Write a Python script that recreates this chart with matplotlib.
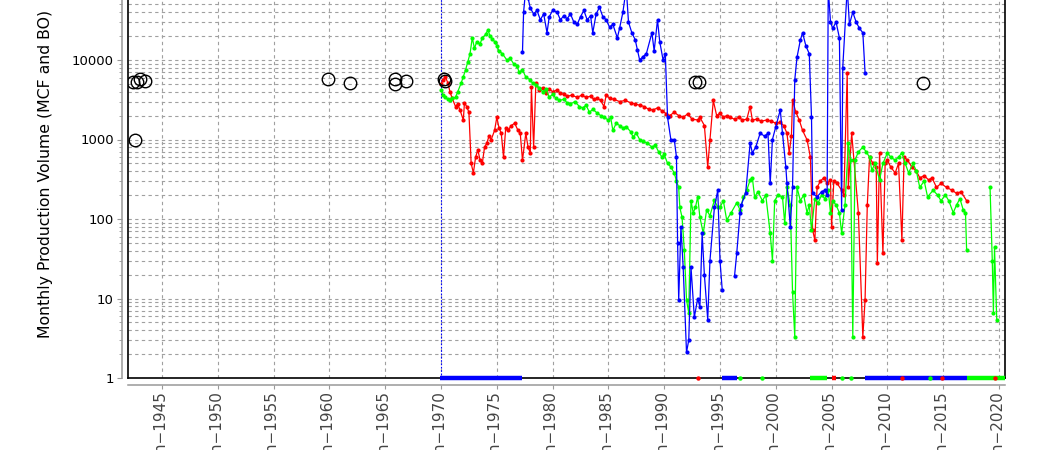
import numpy as np
import matplotlib
matplotlib.use("Agg")
import matplotlib.pyplot as plt
from matplotlib.ticker import FixedLocator, LogLocator, NullFormatter

# ---- data ----
green_years = [1970.0, 1970.2, 1970.4, 1970.6, 1970.8, 1971.0, 1971.3, 1971.5, 1971.8, 1972.0,
               1972.2, 1972.4, 1972.6, 1972.8, 1973.0, 1973.2, 1973.5, 1973.7, 1974.0, 1974.2,
               1974.4, 1974.6, 1974.8, 1975.0, 1975.2, 1975.5, 1975.9, 1976.2, 1976.5, 1976.8,
               1977.0, 1977.3, 1977.6, 1978.0, 1978.2, 1978.5, 1978.8, 1979.1, 1979.4, 1979.7,
               1980.0, 1980.3, 1980.6, 1981.0, 1981.3, 1981.6, 1982.0, 1982.4, 1982.7, 1983.0,
               1983.3, 1983.6, 1984.0, 1984.3, 1984.6, 1985.0, 1985.2, 1985.4, 1985.7, 1986.0,
               1986.3, 1986.6, 1987.0, 1987.2, 1987.5, 1987.8, 1988.1, 1988.5, 1988.9, 1989.2,
               1989.5, 1989.8, 1990.0, 1990.3, 1990.6, 1990.9, 1991.1, 1991.3, 1991.4, 1991.6,
               1991.8, 1992.0, 1992.2, 1992.4, 1992.6, 1992.8, 1993.0, 1993.2, 1993.5, 1993.8,
               1994.1, 1994.5, 1994.8, 1995.0, 1995.3, 1995.6, 1996.0, 1996.5, 1996.8, 1997.1,
               1997.4, 1997.7, 1997.9, 1998.1, 1998.4, 1998.8, 1999.1, 1999.5, 1999.7, 1999.9,
               2000.2, 2000.6, 2000.8, 2001.0, 2001.3, 2001.5, 2001.7, 2001.9, 2002.2, 2002.5,
               2002.8, 2003.0, 2003.2, 2003.5, 2003.8, 2004.1, 2004.4, 2004.7, 2004.9, 2005.1,
               2005.4, 2005.7, 2005.9, 2006.2, 2006.5, 2006.7, 2006.9, 2007.1, 2007.4, 2007.8,
               2008.1, 2008.4, 2008.6, 2008.9, 2009.3, 2009.6, 2010.0, 2010.3, 2010.7, 2011.0,
               2011.3, 2011.6, 2011.9, 2012.3, 2012.6, 2012.9, 2013.3, 2013.6, 2014.1, 2014.5,
               2014.8, 2015.2, 2015.5, 2015.9, 2016.2, 2016.5, 2016.8, 2017.0, 2017.1,
               2019.2, 2019.4, 2019.5, 2019.6, 2019.8]
green_values = [4200, 3600, 3400, 3200, 3100, 3300, 3400, 4000, 5100, 6200,
                7500, 9500, 12000, 19000, 14000, 17000, 16000, 19000, 21000, 24000,
                20000, 18500, 17000, 15000, 13000, 12000, 10000, 10500, 9000, 8500,
                7000, 7500, 6100, 5600, 5100, 4800, 4500, 4000, 4300, 3400,
                3700, 3300, 3100, 3200, 2900, 2800, 3000, 2600, 2500, 2700,
                2200, 2400, 2150, 2000, 1900, 1760, 1900, 1300, 1600, 1500,
                1400, 1450, 1250, 1080, 1200, 1000, 950, 900, 800, 850,
                700, 600, 650, 500, 450, 380, 300, 250, 140, 105,
                41, 9.6, 6.6, 170, 120, 140, 190, 105, 66, 130,
                110, 173, 140, 140, 170, 97, 120, 160, 130, 190,
                230, 310, 330, 190, 220, 170, 200, 66, 30, 170,
                200, 190, 88, 250, 150, 12, 3.3, 250, 170, 200,
                120, 150, 73, 180, 160, 200, 180, 230, 120, 170,
                150, 120, 66, 150, 900, 550, 3.3, 550, 700, 800,
                700, 600, 410, 500, 310, 500, 680, 600, 550, 600,
                680, 500, 380, 500, 400, 250, 300, 190, 230, 200,
                170, 200, 170, 120, 150, 180, 130, 120, 41,
                250, 30, 6.6, 44, 5.4]

red_years = [1970.0, 1970.2, 1970.4, 1970.6, 1970.8, 1971.0, 1971.3, 1971.5, 1971.7, 1972.0,
             1972.1, 1972.3, 1972.5, 1972.7, 1972.9, 1973.1, 1973.3, 1973.5, 1973.7, 1973.9,
             1974.1, 1974.3, 1974.5, 1974.8, 1975.0, 1975.2, 1975.4, 1975.6, 1975.8, 1976.0,
             1976.3, 1976.6, 1976.9, 1977.1, 1977.3, 1977.6, 1977.8, 1978.0, 1978.1, 1978.3,
             1978.5, 1978.8, 1979.1, 1979.4, 1979.7, 1980.0, 1980.4, 1980.7, 1981.0, 1981.3,
             1981.7, 1982.2, 1982.6, 1983.0, 1983.4, 1983.7, 1984.0, 1984.3, 1984.6, 1984.8,
             1985.1, 1985.5, 1986.0, 1986.5, 1987.0, 1987.4, 1987.8, 1988.2, 1988.6, 1989.0,
             1989.4, 1989.8, 1990.2, 1990.5, 1990.9, 1991.3, 1991.7, 1992.1, 1992.5, 1993.0,
             1993.2, 1993.6, 1993.9, 1994.1, 1994.4, 1994.7, 1995.0, 1995.3, 1995.6, 1995.9,
             1996.3, 1996.7, 1997.0, 1997.4, 1997.7, 1997.9, 1998.3, 1998.7, 1999.2, 1999.6,
             2000.0, 2000.4, 2000.7, 2001.0, 2001.2, 2001.4, 2001.5, 2001.8, 2002.1, 2002.4,
             2002.8, 2003.1, 2003.3, 2003.5, 2003.7, 2004.0, 2004.3, 2004.6, 2004.9, 2005.0,
             2005.2, 2005.5, 2005.9, 2006.1, 2006.4, 2006.5, 2006.8, 2007.0, 2007.4, 2007.8,
             2008.0, 2008.2, 2008.4, 2008.7, 2009.0, 2009.1, 2009.3, 2009.6, 2009.8, 2010.0,
             2010.3, 2010.7, 2011.0, 2011.3, 2011.5, 2011.8, 2012.2, 2012.6, 2012.9, 2013.3,
             2013.7, 2014.0, 2014.4, 2014.8, 2015.3, 2015.8, 2016.2, 2016.6, 2017.1]
red_values = [5000, 5600, 6100, 5200, 4000, 3300, 2600, 2800, 2350, 1760,
              2900, 2600, 2200, 500, 380, 600, 740, 550, 500, 800,
              900, 1100, 1000, 1300, 1900, 1400, 1200, 600, 1400, 1300,
              1500, 1600, 1300, 1200, 550, 1200, 800, 680, 4600, 800,
              5100, 4200, 4500, 3900, 4300, 4000, 4200, 3800, 3700, 3500,
              3600, 3400, 3600, 3400, 3500, 3200, 3300, 3100, 2600, 3600,
              3300, 3200, 3000, 3100, 2900, 2800, 2700, 2600, 2400, 2350,
              2500, 2300, 2100, 2000, 2200, 2000, 1900, 2100, 1800, 1760,
              1900, 1500, 450, 990, 3100, 2000, 2150, 1900, 2000, 1900,
              1800, 1900, 1760, 1800, 2600, 1760, 1800, 1700, 1760, 1700,
              1600, 1650, 1500, 1200, 680, 1100, 3100, 2200, 1760, 1300,
              990, 600, 73, 54, 250, 300, 330, 280, 310, 80,
              300, 280, 230, 200, 6900, 250, 1200, 550, 120, 3.3,
              9.6, 150, 600, 500, 450, 28, 680, 37, 500, 550,
              450, 380, 500, 54, 600, 550, 450, 400, 330, 350,
              310, 330, 250, 280, 250, 230, 210, 220, 170]

blue_years = [1977.3, 1977.4, 1977.6, 1977.8, 1978.0, 1978.3, 1978.6, 1978.9, 1979.2, 1979.5,
              1979.7, 1980.0, 1980.4, 1980.7, 1981.0, 1981.3, 1981.6, 1981.9, 1982.2, 1982.5,
              1982.8, 1983.1, 1983.4, 1983.6, 1983.9, 1984.2, 1984.5, 1984.8, 1985.1, 1985.4,
              1985.8, 1986.0, 1986.3, 1986.6, 1986.8, 1987.1, 1987.4, 1987.6, 1987.8, 1988.1,
              1988.4, 1988.9, 1989.1, 1989.4, 1989.6, 1989.9, 1990.1, 1990.3, 1990.6, 1990.9,
              1991.1, 1991.2, 1991.3, 1991.5, 1991.7, 1992.0, 1992.2, 1992.4, 1992.7, 1993.0,
              1993.2, 1993.4, 1993.6, 1993.9, 1994.1, 1994.5, 1994.8, 1995.0, 1995.2,
              1996.3, 1996.5, 1996.8, 1996.9, 1997.3, 1997.7, 1997.9, 1998.2, 1998.6, 1999.0,
              1999.3, 1999.5, 1999.7, 2000.0, 2000.4, 2000.6, 2000.9, 2001.0, 2001.3, 2001.5,
              2001.7, 2001.9, 2002.2, 2002.4, 2002.7, 2003.0, 2003.2, 2003.3, 2003.7, 2004.1,
              2004.4, 2004.6, 2004.7, 2004.9, 2005.1, 2005.4, 2005.7, 2005.9, 2006.0, 2006.4,
              2006.6, 2006.9, 2007.2, 2007.5, 2007.8, 2008.0]
blue_values = [12600, 40000, 80000, 60000, 45000, 38000, 42000, 32000, 38000, 22000,
               35000, 42000, 40000, 32000, 36000, 33000, 38000, 30000, 28000, 35000,
               42000, 32000, 36000, 22000, 38000, 46000, 35000, 32000, 26000, 28000,
               19000, 25000, 40000, 80000, 30000, 22000, 18000, 13400, 10000, 11000,
               12000, 22000, 13000, 32000, 17000, 10000, 12000, 1900, 990, 1000,
               600, 50, 9.6, 80, 25, 2.1, 3.0, 25, 5.8, 10,
               7.8, 66, 20, 5.4, 30, 140, 230, 30, 12.8,
               19, 37, 120, 150, 210, 900, 680, 800, 1200, 1100,
               1200, 280, 1000, 1450, 2350, 1200, 450, 280, 80, 250,
               5600, 10800, 17800, 22000, 15000, 12000, 1900, 210, 190, 220,
               230, 200, 80000, 30000, 25000, 30000, 19000, 130, 8000, 80000,
               28000, 40000, 30000, 25000, 22000, 6900]

# months with no production, shown on the bottom axis
blue_zero_runs = [(1969.9, 1977.3), (1995.2, 1996.5), (2008.0, 2017.1)]
green_zero_runs = [(2003.1, 2004.6), (2017.1, 2020.55)]
red_zero_runs = [(2005.0, 2005.4)]
green_zero_points = [1996.8, 1998.8, 2005.9, 2006.7, 2013.8]
red_zero_points = [1993.0, 2011.3, 2014.9, 2019.6]

circle_years = [1942.4, 1942.8, 1943.0, 1943.5, 1942.6, 1959.9, 1961.8, 1965.9, 1965.9,
                1966.9, 1970.3, 1970.4, 1992.8, 1993.1, 2013.2]
circle_values = [5300, 5300, 5800, 5400, 1000, 5800, 5200, 5800, 5000,
                 5500, 5800, 5500, 5300, 5300, 5200]

event_year = 1970.0
tick_years = list(range(1945, 2021, 5))
tick_labels = ["Jan\u2212%d" % y for y in tick_years]
y_ticks = [1, 10, 100, 1000, 10000]

GREEN = "#00ff00"


def draw_series(ax, years, values, color):
    # break the line where there is a long gap in the months
    years = np.asarray(years, float)
    values = np.asarray(values, float)
    breaks = np.where(np.diff(years) > 0.7)[0] + 1
    for yy, vv in zip(np.split(years, breaks), np.split(values, breaks)):
        ax.plot(yy, vv, color=color, lw=0.9, marker="o", ms=3, mew=0, zorder=3)


fig = plt.figure(figsize=(10.49, 4.5), dpi=100)
ax = fig.add_axes([128 / 1049, 72 / 450, 877 / 1049, 397.5 / 450])
ax.set_yscale("log")
ax.set_xlim(1941.95, 2020.54)
ax.set_ylim(1, 1e5)

ax.axvline(event_year, color="blue", ls=(0, (1.5, 1.5)), lw=0.8, zorder=2)

draw_series(ax, red_years, red_values, "#ff0000")
draw_series(ax, green_years, green_values, GREEN)
draw_series(ax, blue_years, blue_values, "#0000ff")

for runs, col in [(blue_zero_runs, "#0000ff"), (green_zero_runs, GREEN), (red_zero_runs, "#ff0000")]:
    for s, e in runs:
        ax.plot([s, e], [1, 1], color=col, lw=3.2, solid_capstyle="butt", clip_on=False, zorder=5)
for pts, col in [(green_zero_points, GREEN), (red_zero_points, "#ff0000")]:
    ax.plot(pts, [1] * len(pts), ls="none", marker="o", ms=3.2, mew=0, color=col, clip_on=False, zorder=5)

ax.plot(circle_years, circle_values, ls="none", marker="o", ms=9, mfc="none", mec="black", mew=1.0, zorder=4)

# frame: black lines on the plot edges, grey offset axis lines carry the ticks
for xs, ys in [([0, 0], [0, 1]), ([0, 1], [0, 0]), ([1, 1], [0, 1])]:
    ax.plot(xs, ys, transform=ax.transAxes, color="black", lw=1.2, clip_on=False, zorder=4)
ax.spines["top"].set_visible(False)
ax.spines["right"].set_visible(False)
ax.spines["left"].set_position(("outward", 4.3))
ax.spines["bottom"].set_position(("outward", 5))
for s in ["left", "bottom"]:
    ax.spines[s].set_color("#999999")
    ax.spines[s].set_linewidth(1.1)

ax.yaxis.set_major_locator(FixedLocator(y_ticks))
ax.set_yticklabels([str(v) for v in y_ticks])
ax.yaxis.set_minor_locator(LogLocator(base=10, subs=np.arange(2, 10)))
ax.yaxis.set_minor_formatter(NullFormatter())
ax.set_xticks(tick_years)
ax.set_xticklabels(tick_labels, rotation=90, va="top", ha="center")

ax.tick_params(axis="y", which="major", length=3.5, width=0.8, color="#999999", pad=2.5, labelsize=9.5, labelcolor="black")
ax.tick_params(axis="y", which="minor", length=2.5, width=0.6, color="#999999")
ax.tick_params(axis="x", which="major", length=3, width=0.8, color="#999999", pad=2, labelsize=11, labelcolor="#444444")

ax.grid(True, which="major", axis="both", color="#a0a0a0", ls=(0, (3, 3)), lw=0.8)
ax.grid(True, which="minor", axis="y", color="#a0a0a0", ls=(0, (3, 3)), lw=0.8)
ax.set_axisbelow(True)

ax.set_ylabel("Monthly Production Volume (MCF and BO)", fontsize=11.3)
ax.yaxis.set_label_coords(-0.085, 0.513)

fig.savefig("out.png", dpi=100)
